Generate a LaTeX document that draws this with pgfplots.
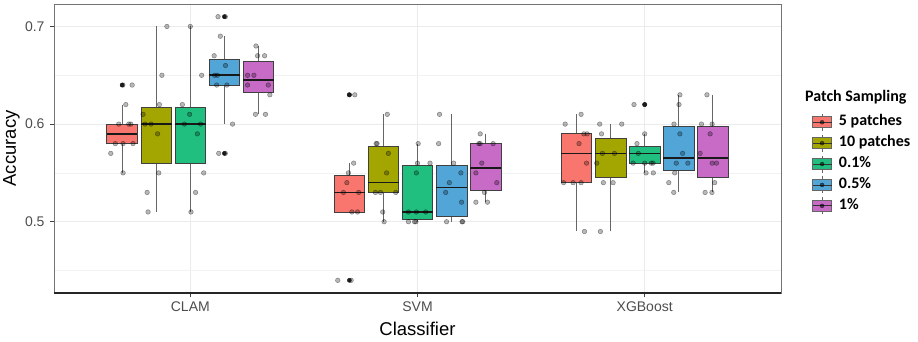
\documentclass[border=0pt]{standalone}
\usepackage{fontspec}
\setmainfont{Liberation Sans}
\newfontfamily\legfont{Carlito}
\usepackage{pgfplots}
\pgfplotsset{compat=1.18}
\usepgfplotslibrary{statistics}
\definecolor{c1}{HTML}{F8766D}
\definecolor{c2}{HTML}{A3A500}
\definecolor{c3}{HTML}{21BF7F}
\definecolor{c4}{HTML}{52A5D7}
\definecolor{c5}{HTML}{C76BC7}
\definecolor{tickgray}{HTML}{4D4D4D}
\pgfplotsset{
  bxstyle/.style={forget plot, solid, draw=black!75, line width=0.75pt,
    boxplot/every median/.style={draw=black!90, line width=1.6pt},
    boxplot/every whisker/.style={draw=black!60, line width=0.8pt}},
  pts/.style={forget plot, only marks, mark=*, mark size=2.3pt,
    mark options={fill=black, fill opacity=0.28, draw=black, draw opacity=0.4, line width=0.5pt}},
}
\newcommand\bx[7]{\addplot[bxstyle, fill=#1, boxplot prepared={draw direction=y, draw position=#2, box extend=0.135, whisker extend=0,
  lower whisker=#3, lower quartile=#4, median=#5, upper quartile=#6, upper whisker=#7}] coordinates {};}
\newcommand\legimg[1]{\addlegendimage{legend image code/.code={
  \draw[black!60, line width=0.6pt] (9.5pt,-8.5pt)--(9.5pt,8.5pt);
  \draw[fill=#1, draw=black!60, line width=0.6pt] (0pt,-5.5pt) rectangle (19pt,5.5pt);
  \draw[black!80, line width=0.8pt] (0pt,0pt)--(19pt,0pt);
  \fill[black, opacity=0.55] (9.5pt,0pt) circle (2pt);
}}}
\begin{document}
\begin{tikzpicture}
\path[use as bounding box] (0,0) rectangle (918pt,341pt);
\begin{axis}[
  at={(54pt,48pt)}, anchor=south west,
  scale only axis, width=727pt, height=289pt,
  xmin=0.4, xmax=3.6, ymin=0.427, ymax=0.723,
  clip=false,
  xtick={1,2,3}, xticklabels={CLAM,SVM,XGBoost},
  ytick={0.5,0.6,0.7}, yticklabels={0.5,0.6,0.7},
  minor ytick={0.45,0.55,0.65},
  xtick pos=left, ytick pos=left, tick align=outside,
  major tick length=4pt, minor tick length=0pt,
  tick style={black!75, line width=0.8pt},
  xmajorgrids, ymajorgrids, yminorgrids,
  major grid style={draw=black!8, line width=1.1pt},
  minor grid style={draw=black!5, line width=0.6pt},
  axis line style={draw=black!55, line width=0.8pt},
  ticklabel style={font=\fontsize{14}{16}\selectfont, color=tickgray},
  xticklabel style={yshift=-1pt},
  yticklabel style={xshift=-2pt},
  xlabel={Classifier}, ylabel={Accuracy},
  label style={font=\fontsize{18.5}{22}\selectfont, color=black},
  xlabel style={at={(axis description cs:0.5,-0.1246)}, anchor=center},
  ylabel style={at={(axis description cs:-0.0585,0.5)}, anchor=center},
  legend style={at={(axis description cs:1.0426,0.622)}, anchor=north west,
    draw=none, fill=none, inner sep=0pt, row sep=3.3pt,
    font=\legfont\bfseries\fontsize{16}{18}\selectfont,
    nodes={inner sep=0pt, text height=11pt, text depth=3.5pt},
    /tikz/every odd column/.append style={column sep=7pt}},
  legend cell align=left,
]
% ---- boxes: color, position, lower whisker, lower quartile, median, upper quartile, upper whisker
% CLAM
\bx{c1}{0.70}{0.55}{0.58}{0.59}{0.60}{0.62}
\bx{c2}{0.85}{0.51}{0.56}{0.60}{0.6175}{0.70}
\bx{c3}{1.00}{0.51}{0.56}{0.60}{0.6175}{0.70}
\bx{c4}{1.15}{0.60}{0.64}{0.65}{0.6665}{0.69}
\bx{c5}{1.30}{0.61}{0.6325}{0.645}{0.664}{0.68}
% SVM
\bx{c1}{1.70}{0.51}{0.51}{0.53}{0.5475}{0.56}
\bx{c2}{1.85}{0.50}{0.53}{0.54}{0.5775}{0.61}
\bx{c3}{2.00}{0.50}{0.5025}{0.51}{0.5575}{0.58}
\bx{c4}{2.15}{0.50}{0.505}{0.535}{0.5575}{0.61}
\bx{c5}{2.30}{0.52}{0.5325}{0.555}{0.58}{0.59}
% XGBoost
\bx{c1}{2.70}{0.49}{0.54}{0.57}{0.59}{0.61}
\bx{c2}{2.85}{0.49}{0.545}{0.57}{0.585}{0.60}
\bx{c3}{3.00}{0.55}{0.56}{0.57}{0.5775}{0.59}
\bx{c4}{3.15}{0.53}{0.5525}{0.565}{0.5975}{0.63}
\bx{c5}{3.30}{0.53}{0.545}{0.565}{0.5975}{0.63}
% ---- outliers
\addplot[forget plot, only marks, mark=*, mark size=2.1pt, black!85] coordinates {
 (0.70,0.64) (1.15,0.71) (1.15,0.57) (1.70,0.63) (1.70,0.44) (3.00,0.62)};
% ---- jittered points
% CLAM
\addplot[pts] coordinates {(0.744,0.64)(0.703,0.64)(0.716,0.62)(0.685,0.60)(0.729,0.60)(0.738,0.60)(0.670,0.58)(0.704,0.58)(0.748,0.58)(0.650,0.57)(0.704,0.55)};
\addplot[pts] coordinates {(0.897,0.70)(0.875,0.65)(0.864,0.62)(0.792,0.61)(0.801,0.60)(0.827,0.60)(0.856,0.59)(0.861,0.55)(0.810,0.53)(0.814,0.51)};
\addplot[pts] coordinates {(1.000,0.70)(1.050,0.65)(0.965,0.62)(0.997,0.61)(0.974,0.60)(1.045,0.60)(1.031,0.59)(1.059,0.55)(1.023,0.53)(1.003,0.51)};
\addplot[pts] coordinates {(1.122,0.71)(1.154,0.71)(1.132,0.69)(1.105,0.67)(1.155,0.66)(1.107,0.65)(1.119,0.65)(1.116,0.64)(1.161,0.64)(1.186,0.60)(1.125,0.57)(1.154,0.57)};
\addplot[pts] coordinates {(1.289,0.68)(1.296,0.67)(1.327,0.67)(1.252,0.65)(1.280,0.65)(1.252,0.64)(1.343,0.64)(1.350,0.63)(1.287,0.61)(1.331,0.61)};
% SVM
\addplot[pts] coordinates {(1.724,0.63)(1.700,0.63)(1.719,0.56)(1.696,0.55)(1.689,0.54)(1.674,0.53)(1.741,0.53)(1.711,0.51)(1.736,0.51)(1.649,0.44)(1.708,0.44)};
\addplot[pts] coordinates {(1.867,0.61)(1.818,0.58)(1.822,0.58)(1.872,0.57)(1.864,0.55)(1.815,0.53)(1.837,0.53)(1.904,0.53)(1.847,0.51)(1.853,0.50)};
\addplot[pts] coordinates {(2.003,0.58)(2.000,0.56)(2.055,0.56)(1.995,0.55)(1.960,0.51)(1.995,0.51)(2.036,0.51)(1.960,0.50)(1.987,0.50)(1.993,0.50)};
\addplot[pts] coordinates {(2.097,0.61)(2.093,0.58)(2.159,0.56)(2.191,0.55)(2.140,0.54)(2.124,0.53)(2.194,0.52)(2.128,0.50)(2.196,0.50)(2.199,0.50)};
\addplot[pts] coordinates {(2.276,0.59)(2.270,0.58)(2.276,0.58)(2.333,0.58)(2.283,0.56)(2.257,0.55)(2.349,0.54)(2.295,0.53)(2.257,0.52)(2.308,0.52)};
% XGBoost
\addplot[pts] coordinates {(2.720,0.61)(2.650,0.60)(2.732,0.59)(2.747,0.59)(2.711,0.58)(2.744,0.56)(2.643,0.54)(2.685,0.54)(2.720,0.54)(2.735,0.49)};
\addplot[pts] coordinates {(2.802,0.60)(2.899,0.60)(2.810,0.59)(2.814,0.57)(2.867,0.57)(2.789,0.56)(2.818,0.54)(2.861,0.54)(2.805,0.49)};
\addplot[pts] coordinates {(2.953,0.62)(3.000,0.62)(3.000,0.59)(2.966,0.58)(2.972,0.57)(2.949,0.56)(3.000,0.56)(3.029,0.56)(3.037,0.56)(3.006,0.55)(3.038,0.55)};
\addplot[pts] coordinates {(3.155,0.63)(3.151,0.62)(3.129,0.60)(3.155,0.59)(3.167,0.57)(3.139,0.56)(3.190,0.56)(3.132,0.55)(3.106,0.54)(3.128,0.53)};
\addplot[pts] coordinates {(3.274,0.63)(3.250,0.60)(3.297,0.60)(3.288,0.59)(3.244,0.57)(3.297,0.56)(3.316,0.56)(3.308,0.54)(3.266,0.53)(3.296,0.53)};
% ---- bottom axis line (thicker in the reference)
\draw[black!85, line width=1.6pt] (rel axis cs:0,0) -- (rel axis cs:1,0);
% ---- legend
\legimg{c1}\addlegendentry{5 patches}
\legimg{c2}\addlegendentry{10 patches}
\legimg{c3}\addlegendentry{0.1\%}
\legimg{c4}\addlegendentry{0.5\%}
\legimg{c5}\addlegendentry{1\%}
\node[anchor=west, inner sep=0pt, font=\legfont\bfseries\fontsize{16}{18}\selectfont]
  at (axis description cs:1.033,0.678) {Patch Sampling};
\end{axis}
\end{tikzpicture}
\end{document}
